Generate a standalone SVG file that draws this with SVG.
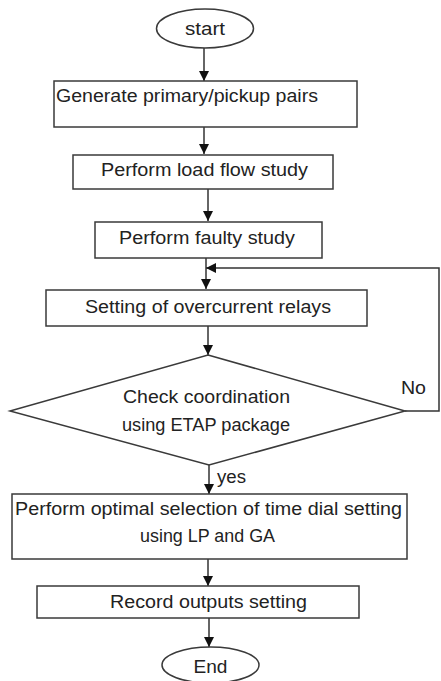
<svg xmlns="http://www.w3.org/2000/svg" width="441" height="681" viewBox="0 0 441 681">
<defs>
<style>
.n{fill:#fff;stroke:#3a3a3a;stroke-width:1.5}
.c{fill:none;stroke:#333;stroke-width:1.5}
text{font-family:"Liberation Sans",Arial,sans-serif;font-size:17.5px;fill:#222}
.m{text-anchor:middle}
</style>
<marker id="a" viewBox="0 0 10 10" refX="10" refY="5" markerWidth="10" markerHeight="10" markerUnits="userSpaceOnUse" orient="auto">
<path d="M0,0 L10,5 L0,10 z" fill="#111"/>
</marker>
</defs>
<rect width="441" height="681" fill="#fff"/>
<g id="connectors">
<line class="c" x1="204" y1="48" x2="204" y2="81" marker-end="url(#a)"/>
<line class="c" x1="204" y1="127" x2="204" y2="154" marker-end="url(#a)"/>
<line class="c" x1="208" y1="189" x2="208" y2="221" marker-end="url(#a)"/>
<line class="c" x1="206" y1="258" x2="206" y2="289" marker-end="url(#a)"/>
<polyline class="c" points="405,411 439,411 439,268 206,268" marker-end="url(#a)"/>
<line class="c" x1="208" y1="326" x2="208" y2="355" marker-end="url(#a)"/>
<line class="c" x1="209" y1="465" x2="209" y2="494" marker-end="url(#a)"/>
<line class="c" x1="208" y1="559" x2="208" y2="586" marker-end="url(#a)"/>
<line class="c" x1="209" y1="618" x2="209" y2="647" marker-end="url(#a)"/>
<text x="401" y="394" textLength="25" lengthAdjust="spacingAndGlyphs">No</text>
<text x="217" y="483" textLength="29" lengthAdjust="spacingAndGlyphs">yes</text>
</g>
<g id="start">
<ellipse class="n" cx="205" cy="28.5" rx="48.5" ry="19.5"/>
<text class="m" x="205" y="35" textLength="40" lengthAdjust="spacingAndGlyphs">start</text>
</g>
<g id="generate">
<rect class="n" x="54" y="81" width="303" height="46"/>
<text x="56" y="102" textLength="262" lengthAdjust="spacingAndGlyphs">Generate primary/pickup pairs</text>
</g>
<g id="loadflow">
<rect class="n" x="73" y="155" width="260" height="34"/>
<text x="101" y="176" textLength="207" lengthAdjust="spacingAndGlyphs">Perform load flow study</text>
</g>
<g id="faulty">
<rect class="n" x="95" y="222" width="227" height="36"/>
<text x="119" y="244" textLength="176" lengthAdjust="spacingAndGlyphs">Perform faulty study</text>
</g>
<g id="setting">
<rect class="n" x="46" y="290" width="321" height="36"/>
<text x="85" y="313" textLength="246" lengthAdjust="spacingAndGlyphs">Setting of overcurrent relays</text>
</g>
<g id="check">
<polygon class="n" points="208,355 405,411 209,465 10,411"/>
<text x="123" y="403" textLength="167" lengthAdjust="spacingAndGlyphs">Check coordination</text>
<text x="122" y="431" textLength="168" lengthAdjust="spacingAndGlyphs">using ETAP package</text>
</g>
<g id="optimal">
<rect class="n" x="12" y="494" width="395" height="65"/>
<text x="15" y="515" textLength="387" lengthAdjust="spacingAndGlyphs">Perform optimal selection of time dial setting</text>
<text x="140" y="542" textLength="135" lengthAdjust="spacingAndGlyphs">using LP and GA</text>
</g>
<g id="record">
<rect class="n" x="37" y="586" width="322" height="32"/>
<text x="110" y="608" textLength="197" lengthAdjust="spacingAndGlyphs">Record outputs setting</text>
</g>
<g id="end">
<ellipse class="n" cx="210.5" cy="665" rx="48.5" ry="18"/>
<text class="m" x="210.5" y="673" textLength="34" lengthAdjust="spacingAndGlyphs">End</text>
</g>
</svg>
